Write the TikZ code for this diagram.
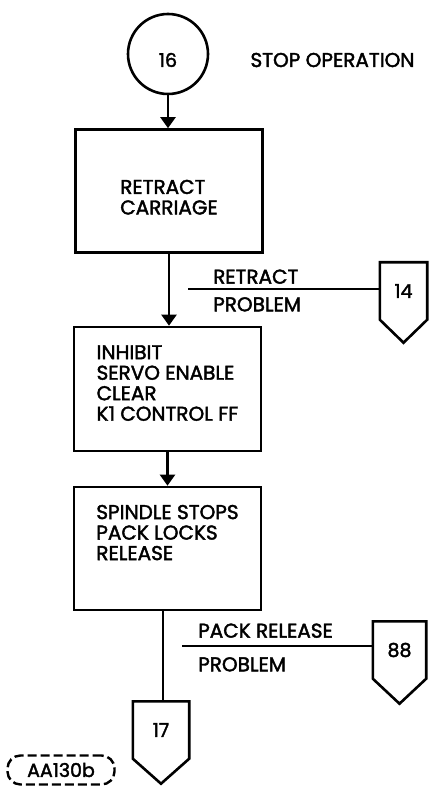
\documentclass[tikz,border=0pt]{standalone}
\usepackage{fontspec}
\setmainfont{Poppins}[FakeBold=2]
\usetikzlibrary{positioning,arrows.meta}

\begin{document}
\begin{tikzpicture}[x=1pt,y=-1pt,
  stepbox/.style={draw, line width=2.6pt, minimum width=187pt, minimum height=123pt, align=left, inner sep=0pt, font=\fontsize{20}{20.5}\selectfont},
  offpage/.style={minimum height=57pt, inner sep=0pt, font=\fontsize{19}{20}\selectfont},
  lbl/.style={inner sep=0pt, font=\fontsize{20}{20}\selectfont},
  arr/.style={-{Triangle[width=15pt,length=11pt]}, line width=2.2pt},
  flow/.style={line width=2.2pt}]
\useasboundingbox (0,0) rectangle (433,791);
\node[draw, circle, line width=2.6pt, minimum size=80pt, text height=26pt, font=\fontsize{19}{20}\selectfont] (circ16) at (168,54) {16};
\node[lbl, right=41pt of circ16, yshift=-6pt] (title) {STOP OPERATION};
\node[stepbox, text height=47pt] (retract) at (169,191) {RETRACT\\CARRIAGE};
\node[stepbox, minimum height=124pt, text depth=12pt] (inhibit) at (167.5,389) {INHIBIT\\SERVO ENABLE\\CLEAR\\K1 CONTROL FF};
\node[stepbox, text depth=32pt] (spindle) at (167.5,548.5) {SPINDLE STOPS\\PACK LOCKS\\RELEASE};
\node[offpage, minimum width=47pt] (o14) at (403.5,291) {14};
\node[offpage, minimum width=53pt] (o88) at (399.5,650) {88};
\node[offpage, minimum width=56pt] (o17) at (161,730) {17};
\foreach \n/\d in {o14/23,o88/25,o17/25}
  \draw[line width=2.6pt, line join=miter] (\n.south west) -- (\n.north west) -- (\n.north east) -- (\n.south east) -- ([yshift=-\d pt]\n.south) -- cycle;
\node[draw, dashed, dash pattern=on 9pt off 4pt, line width=2.4pt, rounded corners=13pt, minimum width=107pt, minimum height=29pt, font=\fontsize{19}{20}\selectfont] (tag) at (61,770) {AA130b};
% main flow
\draw[arr] (circ16) -- (circ16 |- retract.north);
\draw[arr] (retract.south) -- (inhibit.north -| retract.south);
\draw[arr] (inhibit) -- (inhibit |- spindle.north);
\draw[flow] (o17.north -| 163,0) -- (163,0 |- spindle.south);
% problem branches
\coordinate (rp) at (188,289);
\draw[flow] (rp) -- (rp -| o14.west);
\node[lbl, above right=5pt and 25pt of rp] (rpa) {RETRACT};
\node[lbl, below right=8pt and 25pt of rp] (rpb) {PROBLEM};
\coordinate (pp) at (182,646);
\draw[flow] (pp) -- (pp -| o88.west);
\node[lbl, above right=8pt and 16pt of pp] (ppa) {PACK RELEASE};
\node[lbl, below right=11pt and 16pt of pp] (ppb) {PROBLEM};
\end{tikzpicture}
\end{document}
